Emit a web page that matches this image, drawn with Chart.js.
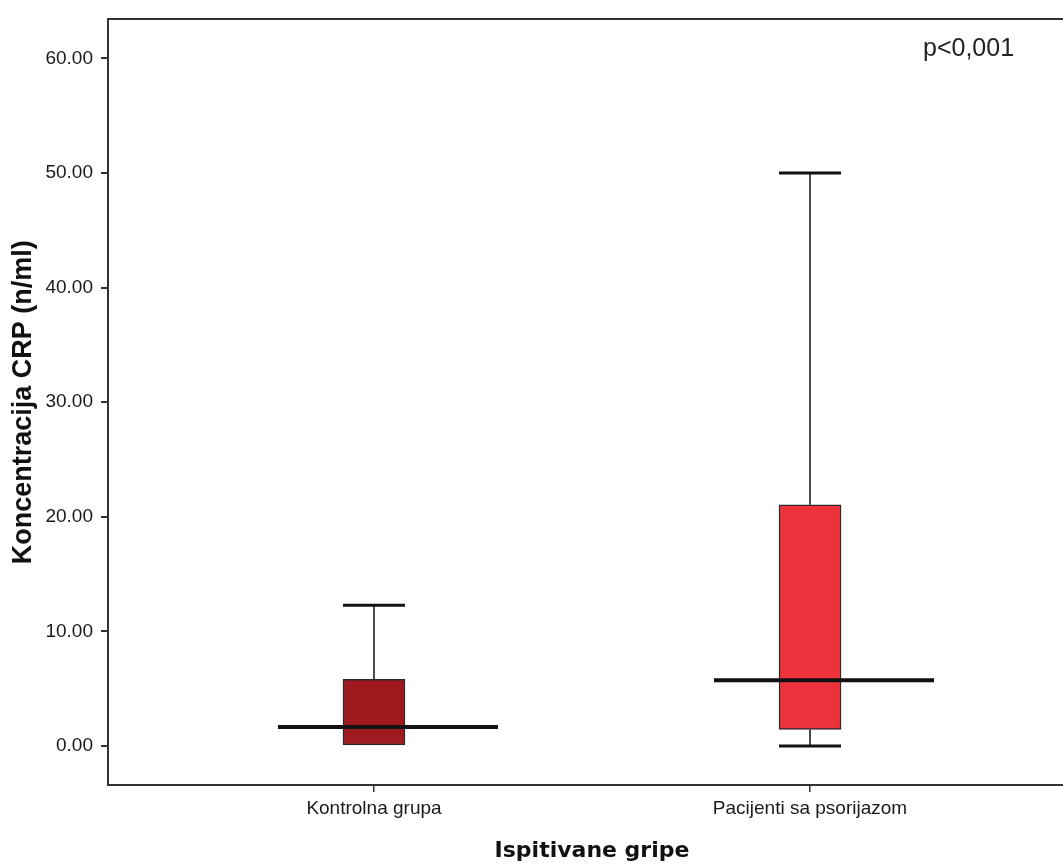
<!DOCTYPE html>
<html lang="sr">
<head>
<meta charset="UTF-8">
<title>Koncentracija CRP</title>
<script src="https://cdn.jsdelivr.net/npm/chart.js@4.4.1/dist/chart.umd.min.js"></script>
<style>
  html, body { margin: 0; padding: 0; background: #fff; overflow: hidden; }
  #wrap { width: 1080px; height: 868px; }
</style>
</head>
<body>
<div id="wrap"><canvas id="chart"></canvas></div>
<script>
// values
const groups = ['Kontrolna grupa', 'Pacijenti sa psorijazom'];
const whiskerLow = [0.00, 0.00];
const q1 = [0.00, 1.45];
const median = [1.65, 5.75];
const q3 = [5.81, 21.05];
const whiskerHigh = [12.28, 50.00];
const yTicks = [0, 10, 20, 30, 40, 50, 60];
const boxColors = ['#9e1a1f', '#ee323c'];
const pText = 'p<0,001';

const sans = '"Liberation Sans", Arial, sans-serif';

// whiskers, caps and median lines on top of the boxes
const boxLines = {
    id: 'boxLines',
    afterDatasetsDraw(chart) {
        const { ctx, scales: { x, y } } = chart;
        const half = 31;
        ctx.save();
        ctx.strokeStyle = '#111';
        groups.forEach((g, i) => {
            const cx = x.getPixelForValue(i);
            ctx.lineWidth = 1.5;
            ctx.beginPath();
            ctx.moveTo(cx, y.getPixelForValue(q3[i]));
            ctx.lineTo(cx, y.getPixelForValue(whiskerHigh[i]));
            if (whiskerLow[i] < q1[i]) {
                ctx.moveTo(cx, y.getPixelForValue(q1[i]));
                ctx.lineTo(cx, y.getPixelForValue(whiskerLow[i]));
            }
            ctx.stroke();

            ctx.lineWidth = 3;
            ctx.beginPath();
            const yHi = y.getPixelForValue(whiskerHigh[i]);
            ctx.moveTo(cx - half, yHi);
            ctx.lineTo(cx + half, yHi);
            if (whiskerLow[i] < q1[i]) {
                const yLo = y.getPixelForValue(whiskerLow[i]);
                ctx.moveTo(cx - half, yLo);
                ctx.lineTo(cx + half, yLo);
            }
            ctx.stroke();

            ctx.lineWidth = 4;
            ctx.beginPath();
            const ym = y.getPixelForValue(median[i]);
            ctx.moveTo(cx - 96, ym);
            ctx.lineTo(cx + 124, ym);
            ctx.stroke();
        });
        ctx.restore();
    },
    afterDraw(chart) {
        const { ctx, chartArea } = chart;
        ctx.save();
        ctx.fillStyle = '#222';
        ctx.font = '25px ' + sans;
        ctx.textBaseline = 'alphabetic';
        ctx.fillText(pText, chartArea.right - 153, chartArea.top + 37);
        ctx.restore();
    }
};

const ctx = document.getElementById('chart').getContext('2d');
const myChart = new Chart(ctx, {
    type: 'bar',
    data: {
        datasets: [{
            data: groups.map((g, i) => ({ x: i, y: [q1[i], q3[i]] })),
            backgroundColor: boxColors,
            borderColor: '#2a2a2a',
            borderWidth: 1.5,
            borderSkipped: false,
            barThickness: 62
        }]
    },
    options: {
        responsive: true,
        maintainAspectRatio: false,
        animation: false,
        layout: { padding: { top: 18, right: 4, bottom: 0, left: 0 } },
        plugins: {
            legend: { display: false },
            tooltip: { enabled: false }
        },
        scales: {
            x: {
                type: 'linear',
                min: -0.61,
                max: 1.61,
                offset: false,
                afterBuildTicks: s => { s.ticks = groups.map((g, i) => ({ value: i })); },
                afterFit: s => { s.height = 83; },
                ticks: {
                    callback: v => groups[v],
                    color: '#1a1a1a',
                    font: { family: sans, size: 19 },
                    padding: 5,
                    maxRotation: 0,
                    autoSkip: false
                },
                grid: { offset: false, drawOnChartArea: false, tickLength: 7, tickColor: '#333', lineWidth: 1.5 },
                border: { display: true, color: '#333', width: 2 },
                title: {
                    display: true,
                    text: 'Ispitivane gripe',
                    color: '#111',
                    font: { family: '"DejaVu Sans", sans-serif', size: 22, weight: 'bold' },
                    padding: { top: 0, bottom: 4 }
                }
            },
            x2: {
                type: 'linear',
                position: 'top',
                min: -0.61,
                max: 1.61,
                offset: false,
                afterFit: s => { s.height = 0; },
                ticks: { display: false },
                grid: { display: false, drawTicks: false },
                border: { display: true, color: '#333', width: 2 }
            },
            y: {
                min: -3.4,
                max: 63.4,
                afterBuildTicks: s => { s.ticks = yTicks.map(v => ({ value: v })); },
                afterFit: s => { s.width = 108; },
                ticks: {
                    callback: v => v.toFixed(2),
                    color: '#1a1a1a',
                    font: { family: sans, size: 19 },
                    padding: 8
                },
                grid: { drawOnChartArea: false, tickLength: 7, tickColor: '#333', lineWidth: 2 },
                border: { display: true, color: '#333', width: 2 },
                title: {
                    display: true,
                    text: 'Koncentracija CRP (n/ml)',
                    color: '#111',
                    font: { family: sans, size: 27, weight: 'bold' },
                    padding: { top: 7, bottom: 0 }
                }
            }
        }
    },
    plugins: [boxLines]
});
</script>
</body>
</html>
